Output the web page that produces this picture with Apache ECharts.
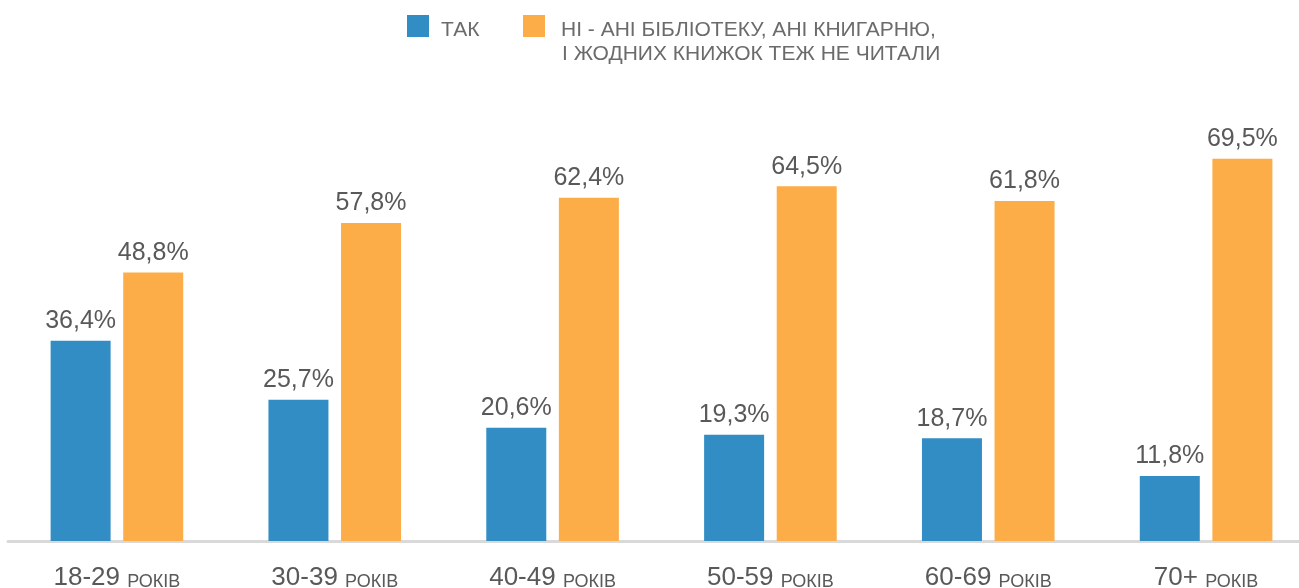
<!DOCTYPE html>
<html>
<head>
<meta charset="utf-8">
<script src="https://cdn.jsdelivr.net/npm/echarts@6/dist/echarts.min.js"></script>
<style>
  html, body { margin: 0; padding: 0; background: #fff; overflow: hidden; }
  /* графік трохи ширший за вікно: вісь виходить за правий край */
  #main { width: 1315px; height: 588px; }
</style>
</head>
<body>
<div id="main"></div>
<script>
// дані
const ages = ['18-29', '30-39', '40-49', '50-59', '60-69', '70+']
const yesValues = [36.4, 25.7, 20.6, 19.3, 18.7, 11.8]
const noValues = [48.8, 57.8, 62.4, 64.5, 61.8, 69.5]
const seriesNames = ['ТАК', 'НІ - АНІ БІБЛІОТЕКУ, АНІ КНИГАРНЮ,']
const legendSecondLine = 'І ЖОДНИХ КНИЖОК ТЕЖ НЕ ЧИТАЛИ'

const font = "'Liberation Sans', Arial, sans-serif"
const textGray = '#595959'
const legendGray = '#6b6b6b'

// підпис значення: 36,4%
function pct (p) {
  return p.value.toFixed(1).replace('.', ',') + '%'
}

function legendItem (name, left, padLeft) {
  return {
    left: left,
    top: 15,
    padding: 0,
    itemWidth: 22,
    itemHeight: 22,
    icon: 'rect',
    data: [name],
    formatter: n => '{t|' + n + '}',
    textStyle: {
      color: legendGray,
      fontSize: 21,
      fontFamily: font,
      rich: {
        // текст трохи нижче центру квадрата
        t: {
          color: legendGray,
          fontSize: 21,
          fontFamily: font,
          padding: [8, 0, 0, padLeft]
        }
      }
    }
  }
}

function barLabel () {
  return {
    show: true,
    position: 'top',
    distance: 7,
    formatter: pct,
    color: textGray,
    fontSize: 25,
    fontFamily: font
  }
}

const myChart = echarts.init(document.getElementById('main'))

const option = {
  animation: false,
  textStyle: { fontFamily: font },
  legend: [
    legendItem(seriesNames[0], 407, 7),
    legendItem(seriesNames[1], 523, 11)
  ],
  graphic: [
    {
      type: 'text',
      left: 562,
      top: 44,
      style: {
        text: legendSecondLine,
        fill: legendGray,
        fontSize: 21,
        fontFamily: font
      }
    }
  ],
  grid: {
    left: 8,
    right: 0,
    top: 101,
    bottom: 47,
    outerBoundsMode: 'none'
  },
  xAxis: {
    type: 'category',
    data: ages,
    axisLine: { lineStyle: { color: '#d9d9d9', width: 3 } },
    axisTick: { show: false },
    axisLabel: {
      margin: 24,
      interval: 0,
      formatter: v => '{n|' + v + ' }{r|РОКІВ}',
      rich: {
        n: { fontSize: 26, color: textGray, fontFamily: font, verticalAlign: 'bottom' },
        r: { fontSize: 18, color: textGray, fontFamily: font, verticalAlign: 'bottom' }
      }
    }
  },
  yAxis: {
    type: 'value',
    min: 0,
    max: 80,
    show: false,
    splitLine: { show: false }
  },
  series: [
    {
      name: seriesNames[0],
      type: 'bar',
      data: yesValues,
      barWidth: 60,
      barGap: '21%',
      itemStyle: { color: '#318dc4' },
      label: barLabel()
    },
    {
      name: seriesNames[1],
      type: 'bar',
      data: noValues,
      barWidth: 60,
      barGap: '21%',
      itemStyle: { color: '#fdad48' },
      label: barLabel()
    }
  ]
}

myChart.setOption(option)
</script>
</body>
</html>
